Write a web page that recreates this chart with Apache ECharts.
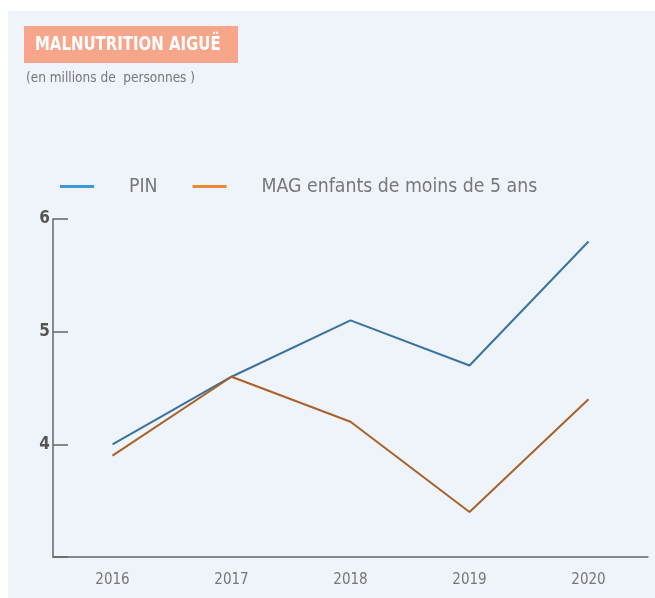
<!DOCTYPE html>
<html><head><meta charset="utf-8">
<script src="https://cdn.jsdelivr.net/npm/echarts@6/dist/echarts.min.js"></script>
<style>html,body{margin:0;padding:0;background:#fff}#c{width:655px;height:598px}</style>
</head><body><div id="c"></div>
<script>
const years = ['2016','2017','2018','2019','2020'];
const pin = [4.0, 4.6, 5.1, 4.7, 5.8];
const mag = [3.9, 4.6, 4.2, 3.4, 4.4];
const yTicks = [3, 4, 5, 6];
const titleText = 'MALNUTRITION AIGUË';
const subtitleText = '(en millions de  personnes )';
const seriesNames = ['PIN', 'MAG enfants de moins de 5 ans'];

const FONT = '"DejaVu Sans Condensed", Roboto, sans-serif';
const chart = echarts.init(document.getElementById('c'), null, {renderer: 'canvas'});
chart.setOption({
  backgroundColor: '#ffffff',
  animation: false,
  graphic: [
    {type: 'rect', left: 8, top: 11, shape: {width: 647, height: 587}, style: {fill: '#eff3fa'}, z: -10},
    {type: 'rect', left: 24, top: 26, shape: {width: 214, height: 37}, style: {fill: '#f7a68b'}},
    {type: 'text', x: 35, y: 35, scaleX: 0.83, style: {text: titleText, fill: '#ffffff', font: 'bold 20px ' + FONT}},
    {type: 'text', left: 26, top: 71, style: {text: subtitleText, fill: '#777777', font: '13.5px ' + FONT}}
  ],
  legend: {
    left: 55, top: 172,
    itemWidth: 34, itemHeight: 3, itemGap: 35,
    icon: 'rect',
    textStyle: {color: '#777777', fontSize: 19.3, fontFamily: FONT, padding: [0, 0, 0, 30]},
    data: [
      {name: seriesNames[0], itemStyle: {color: '#3d97d3'}},
      {name: seriesNames[1], itemStyle: {color: '#ec8a2e'}}
    ]
  },
  grid: {left: 53, right: 7, top: 219, bottom: 41},
  xAxis: {
    type: 'category', data: years, boundaryGap: true,
    axisLine: {lineStyle: {color: '#666666', width: 1.5}},
    axisTick: {inside: true, length: 8, alignWithLabel: true, lineStyle: {color: '#666666', width: 1.2}},
    axisLabel: {color: '#777777', fontSize: 15, fontFamily: FONT, margin: 16}
  },
  yAxis: {
    type: 'value', min: yTicks[0], max: yTicks[yTicks.length - 1], interval: 1,
    splitLine: {show: false},
    axisLine: {show: true, lineStyle: {color: '#666666', width: 1.5}},
    axisTick: {show: true, inside: true, length: 15, lineStyle: {color: '#666666', width: 1.5}},
    axisLabel: {color: '#555555', fontSize: 17, fontWeight: 'bold', fontFamily: FONT, margin: 3,
      formatter: v => v === yTicks[0] ? '' : String(v)}
  },
  series: [
    {name: seriesNames[0], type: 'line', data: pin, symbol: 'none', lineStyle: {color: '#3a72a0', width: 2}, itemStyle: {color: '#3a72a0'}},
    {name: seriesNames[1], type: 'line', data: mag, symbol: 'none', lineStyle: {color: '#a8622a', width: 2}, itemStyle: {color: '#a8622a'}}
  ]
});
</script></body></html>
